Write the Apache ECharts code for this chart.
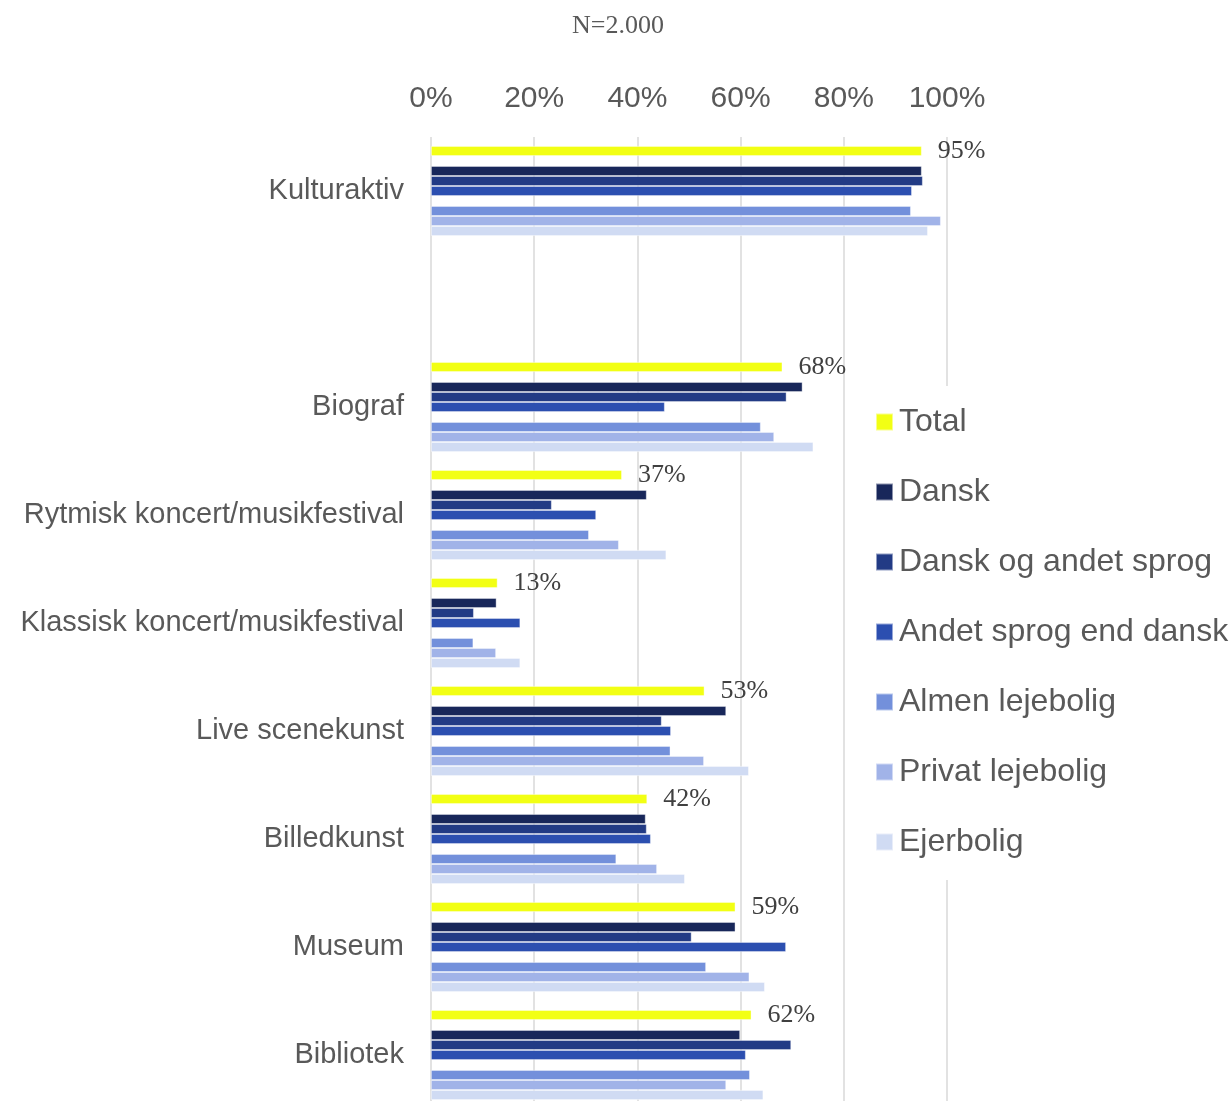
<!DOCTYPE html>
<html>
<head>
<meta charset="utf-8">
<script src="https://cdn.jsdelivr.net/npm/echarts@6/dist/echarts.min.js"></script>
<style>
  html, body { margin: 0; padding: 0; background: #fff; }
  #chart { width: 1232px; height: 1101px; }
</style>
</head>
<body>
<div id="chart"></div>
<script>
// categories (the empty one is the gap under Kulturaktiv)
const categories = ['Kulturaktiv', '', 'Biograf', 'Rytmisk koncert/musikfestival', 'Klassisk koncert/musikfestival', 'Live scenekunst', 'Billedkunst', 'Museum', 'Bibliotek']
const total = [95.1, null, 68.1, 37.0, 12.9, 53.0, 41.9, 59.0, 62.1]
const dansk = [95.1, null, 72.0, 41.8, 12.7, 57.2, 41.6, 59.0, 59.9]
const danskOgAndet = [95.3, null, 68.9, 23.4, 8.3, 44.7, 41.8, 50.5, 69.8]
const andetSprog = [93.2, null, 45.3, 32.0, 17.3, 46.5, 42.6, 68.8, 61.0]
const almen = [93.0, null, 63.9, 30.6, 8.2, 46.4, 35.9, 53.3, 61.8]
const privat = [98.8, null, 66.5, 36.4, 12.6, 52.9, 43.8, 61.7, 57.2]
const ejer = [96.3, null, 74.1, 45.6, 17.3, 61.6, 49.2, 64.7, 64.4]
const xTicks = [0, 20, 40, 60, 80, 100]

const sans = '"Liberation Sans", Arial, sans-serif'
const serif = '"Liberation Serif", "Times New Roman", serif'

const names = ['Total', 'Dansk', 'Dansk og andet sprog', 'Andet sprog end dansk', 'Almen lejebolig', 'Privat lejebolig', 'Ejerbolig']
const colors = ['#F2FF14', '#18275A', '#223B85', '#2C4FB0', '#7390DB', '#A1B3E8', '#D0DBF3']
const values = [total, dansk, danskOgAndet, andetSprog, almen, privat, ejer]

function barSeries(i) {
  return {
    name: names[i],
    type: 'bar',
    barWidth: 10,
    barGap: '0%',
    itemStyle: { color: colors[i], borderColor: 'rgba(255,255,255,0.5)', borderWidth: 0.8 },
    data: values[i]
  }
}
function spacer(id) {
  return { name: id, type: 'bar', barWidth: 10, barGap: '0%', data: [], itemStyle: { color: 'transparent' } }
}

const totalSeries = barSeries(0)
totalSeries.label = {
  show: true,
  position: 'right',
  distance: 16,
  color: '#404040',
  fontFamily: serif,
  fontSize: 26,
  formatter: p => Math.round(p.value) + '%'
}

const series = [
  totalSeries,
  spacer('gap1'),
  barSeries(1), barSeries(2), barSeries(3),
  spacer('gap2'),
  barSeries(4), barSeries(5), barSeries(6)
]

const chart = echarts.init(document.getElementById('chart'))
chart.setOption({
  animation: false,
  title: {
    text: 'N=2.000',
    left: 613,
    textAlign: 'center',
    top: 8,
    textStyle: { fontFamily: serif, fontSize: 26, fontWeight: 'normal', color: '#595959' }
  },
  legend: {
    data: names,
    orient: 'vertical',
    left: 865,
    top: 386,
    padding: [20, 10, 22, 10],
    backgroundColor: '#fff',
    icon: 'rect',
    itemWidth: 17,
    itemHeight: 17,
    itemGap: 38,
    textStyle: { fontFamily: sans, fontSize: 32, lineHeight: 32, color: '#595959', padding: [0, 0, 0, 1] }
  },
  grid: { left: 431, top: 137, width: 516, height: 972, outerBoundsMode: 'none', containLabel: false },
  xAxis: {
    type: 'value',
    position: 'top',
    min: xTicks[0],
    max: xTicks[xTicks.length - 1],
    interval: 20,
    axisLine: { show: false },
    axisTick: { show: false },
    axisLabel: { formatter: '{value}%', fontFamily: sans, fontSize: 30, color: '#595959', margin: 23 },
    splitLine: { show: true, lineStyle: { color: '#D9D9D9', width: 1.5 } }
  },
  yAxis: {
    type: 'category',
    inverse: true,
    data: categories,
    axisLine: { show: false },
    axisTick: { show: false },
    axisLabel: { fontFamily: sans, fontSize: 29, color: '#595959', margin: 27 }
  },
  series: series
})
</script>
</body>
</html>
